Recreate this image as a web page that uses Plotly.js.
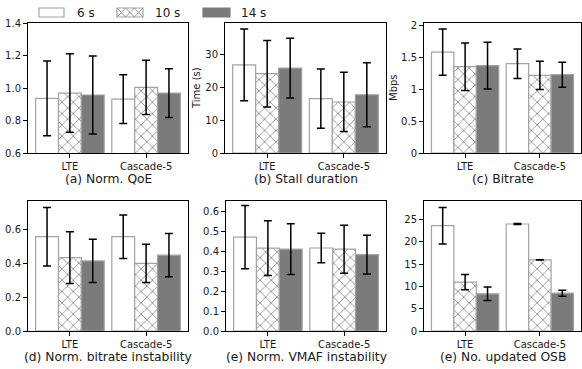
<!DOCTYPE html>
<html>
<head>
<meta charset="utf-8">
<script src="https://cdn.plot.ly/plotly-3.0.1.min.js"></script>
<style>html,body{margin:0;padding:0;background:#fff;}#chart{width:582px;height:369px;}</style>
</head>
<body>
<div id="chart"></div>
<script>
// ---- Data ----
const categories = ["LTE", "Cascade-5"];
const seriesNames = ["6 s", "10 s", "14 s"];

// (a) Norm. QoE
const qoe6 = [0.936, 0.932];   const qoe6Err = [0.23, 0.15];
const qoe10 = [0.969, 1.004];  const qoe10Err = [0.242, 0.167];
const qoe14 = [0.957, 0.969];  const qoe14Err = [0.24, 0.15];

// (b) Stall duration (s)
const stall6 = [26.8, 16.5];   const stall6Err = [10.9, 9.0];
const stall10 = [24.1, 15.5];  const stall10Err = [10.1, 9.0];
const stall14 = [25.8, 17.7];  const stall14Err = [9.1, 9.75];

// (c) Bitrate (Mbps)
const br6 = [1.583, 1.401];    const br6Err = [0.362, 0.232];
const br10 = [1.354, 1.219];   const br10Err = [0.372, 0.222];
const br14 = [1.370, 1.229];   const br14Err = [0.367, 0.196];

// (d) Norm. bitrate instability
const bi6 = [0.557, 0.557];    const bi6Err = [0.173, 0.129];
const bi10 = [0.434, 0.399];   const bi10Err = [0.153, 0.113];
const bi14 = [0.414, 0.448];   const bi14Err = [0.128, 0.128];

// (e) Norm. VMAF instability
const vi6 = [0.469, 0.415];    const vi6Err = [0.158, 0.074];
const vi10 = [0.414, 0.409];   const vi10Err = [0.137, 0.12];
const vi14 = [0.409, 0.382];   const vi14Err = [0.127, 0.097];

// (f) No. updated OSB
const osb6 = [23.66, 24.03];   const osb6Err = [4.1, 0.1];
const osb10 = [10.97, 15.97];  const osb10Err = [1.72, 0.05];
const osb14 = [8.36, 8.5];     const osb14Err = [1.5, 0.67];

const panelTitles = ["(a) Norm. QoE", "(b) Stall duration", "(c) Bitrate",
                     "(d) Norm. bitrate instability", "(e) Norm. VMAF instability", "(e) No. updated OSB"];
const yTitles = ["", "Time (s)", "Mbps", "", "", ""];
const yRanges = [[0.6, 1.4], [0, 39.5], [0, 2.04], [0, 0.768], [0, 0.65], [0, 29.2]];
const yTickVals = [[0.6, 0.8, 1.0, 1.2, 1.4], [0, 10, 20, 30], [0, 0.5, 1, 1.5, 2],
                   [0.0, 0.2, 0.4, 0.6], [0.0, 0.1, 0.2, 0.3, 0.4, 0.5, 0.6], [0, 5, 10, 15, 20, 25]];
const yTickText = [["0.6", "0.8", "1.0", "1.2", "1.4"], ["0", "10", "20", "30"], ["0", "0.5", "1", "1.5", "2"],
                   ["0.0", "0.2", "0.4", "0.6"], ["0.0", "0.1", "0.2", "0.3", "0.4", "0.5", "0.6"],
                   ["0", "5", "10", "15", "20", "25"]];

const panels = [
  [[qoe6, qoe6Err], [qoe10, qoe10Err], [qoe14, qoe14Err]],
  [[stall6, stall6Err], [stall10, stall10Err], [stall14, stall14Err]],
  [[br6, br6Err], [br10, br10Err], [br14, br14Err]],
  [[bi6, bi6Err], [bi10, bi10Err], [bi14, bi14Err]],
  [[vi6, vi6Err], [vi10, vi10Err], [vi14, vi14Err]],
  [[osb6, osb6Err], [osb10, osb10Err], [osb14, osb14Err]]
];

// ---- Layout geometry (pixels) ----
const W = 582, H = 369;
const xPix = [[28, 188], [225, 386], [424, 581], [28, 188], [226, 386], [424, 581]];
const yPix = [[23, 153], [23, 153], [23, 153], [201, 331], [201, 331], [201, 331]];
const yTitleX = [0, 197, 394, 0, 0, 0];
const FONT = "DejaVu Sans, sans-serif";
const TXT = "#1a1a1a";

const edgeColor = "#a3a3a3";
const styles = [
  {color: "#ffffff"},
  {color: "#ffffff", pattern: {shape: "x", fgcolor: "#969696", bgcolor: "#ffffff", size: 8, solidity: 0.22}},
  {color: "#7b7b7b"}
];

const xVals = categories.map((c, i) => i);
const traces = [];
const layout = {
  width: W, height: H,
  margin: {l: 0, r: 0, t: 0, b: 0},
  paper_bgcolor: "#ffffff", plot_bgcolor: "#ffffff",
  showlegend: false,
  barmode: "group", bargap: 0.1, bargroupgap: 0,
  font: {family: FONT, size: 10, color: TXT},
  annotations: [], shapes: []
};

const px = v => v / W, py = v => 1 - v / H;

panels.forEach((p, k) => {
  const ax = k === 0 ? "" : String(k + 1);
  p.forEach((s, j) => {
    traces.push({
      type: "bar", x: xVals, y: s[0], name: seriesNames[j],
      xaxis: "x" + ax, yaxis: "y" + ax,
      marker: Object.assign({line: {color: edgeColor, width: 1.2}}, styles[j]),
      error_y: {type: "data", array: s[1], visible: true, color: "#000", thickness: 1.5, width: 4},
      hoverinfo: "skip"
    });
  });
  const xd = [xPix[k][0] / W, xPix[k][1] / W];
  const yd = [1 - yPix[k][1] / H, 1 - yPix[k][0] / H];
  layout["xaxis" + ax] = {
    domain: xd, anchor: "y" + ax, range: [-0.55, 1.55],
    tickvals: xVals, ticktext: categories, ticks: "outside", ticklen: 4, tickcolor: "#000",
    showline: true, linecolor: "#000", linewidth: 1, mirror: true,
    showgrid: false, zeroline: false, fixedrange: true,
    tickfont: {family: FONT, size: 10, color: TXT}
  };
  layout["yaxis" + ax] = {
    domain: yd, anchor: "x" + ax, range: yRanges[k],
    tickvals: yTickVals[k], ticktext: yTickText[k], ticks: "outside", ticklen: 4, tickcolor: "#000",
    showline: true, linecolor: "#000", linewidth: 1, mirror: true,
    showgrid: false, zeroline: false, fixedrange: true,
    tickfont: {family: FONT, size: 10, color: TXT}
  };
  if (yTitles[k]) {
    layout.annotations.push({
      xref: "paper", yref: "paper", x: px(yTitleX[k]), y: py((yPix[k][0] + yPix[k][1]) / 2),
      text: yTitles[k], textangle: -90, showarrow: false, xanchor: "center", yanchor: "middle",
      font: {family: FONT, size: 10, color: TXT}
    });
  }
  layout.annotations.push({
    xref: "paper", yref: "paper",
    x: (xPix[k][0] + xPix[k][1]) / 2 / W, y: py(yPix[k][1] + 26),
    text: panelTitles[k], showarrow: false, xanchor: "center", yanchor: "middle",
    font: {family: FONT, size: 12.3, color: TXT}
  });
});

// ---- Custom legend (top) ----
const legPatches = [[39, 64], [117, 143], [203, 230]];
const legText = [75, 153, 239];
const lyTop = 8, lyBot = 17;
legPatches.forEach((lp, j) => {
  layout.shapes.push({
    type: "rect", xref: "paper", yref: "paper",
    x0: px(lp[0]), x1: px(lp[1]), y0: py(lyBot), y1: py(lyTop),
    fillcolor: styles[j].color, line: {color: j === 2 ? "#7b7b7b" : edgeColor, width: 1.2}
  });
  if (j === 1) {
    const n = 3, tw = (lp[1] - lp[0]) / n;
    let d = "";
    for (let t = 0; t < n; t++) {
      const a = lp[0] + t * tw, b = a + tw;
      d += `M${px(a)},${py(lyTop)}L${px(b)},${py(lyBot)}M${px(a)},${py(lyBot)}L${px(b)},${py(lyTop)}`;
    }
    layout.shapes.push({type: "path", xref: "paper", yref: "paper", path: d, line: {color: "#969696", width: 1}});
  }
  layout.annotations.push({
    xref: "paper", yref: "paper", x: px(legText[j]), y: py((lyTop + lyBot) / 2),
    text: seriesNames[j], showarrow: false, xanchor: "left", yanchor: "middle",
    font: {family: FONT, size: 12, color: TXT}
  });
});

Plotly.newPlot("chart", traces, layout, {staticPlot: true, displayModeBar: false});
</script>
</body>
</html>
